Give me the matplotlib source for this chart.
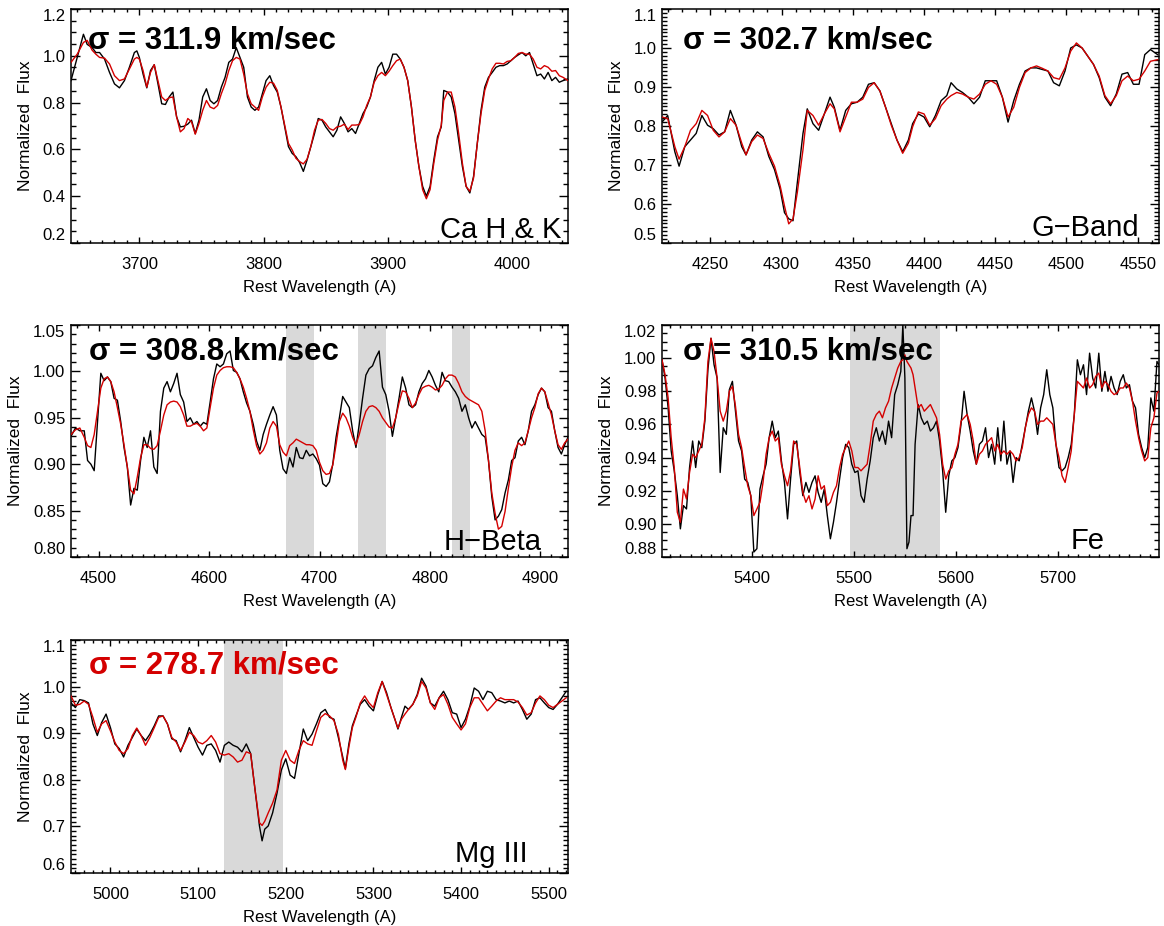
import matplotlib
matplotlib.use("Agg")
import matplotlib.pyplot as plt
from matplotlib.ticker import MultipleLocator, AutoMinorLocator, FormatStrFormatter

plt.rcParams["font.family"] = ["Liberation Sans", "DejaVu Sans"]

# ---- Ca H & K ----
wl_cahk = [3645, 3650, 3655, 3658, 3662, 3665, 3668, 3672, 3676, 3680,
           3684, 3688, 3692, 3696, 3698, 3700, 3703, 3706, 3709, 3712,
           3715, 3718, 3721, 3724, 3727, 3730, 3733, 3736, 3739, 3742,
           3745, 3748, 3751, 3754, 3757, 3760, 3763, 3766, 3769, 3772,
           3775, 3778, 3781, 3784, 3787, 3790, 3793, 3796, 3799, 3802,
           3805, 3808, 3811, 3814, 3817, 3820, 3823, 3826, 3829, 3832,
           3835, 3838, 3841, 3844, 3847, 3850, 3853, 3856, 3859, 3862,
           3865, 3868, 3871, 3874, 3877, 3880, 3883, 3886, 3889, 3892,
           3895, 3898, 3901, 3904, 3907, 3910, 3913, 3916, 3919, 3922,
           3925, 3928, 3931, 3934, 3937, 3940, 3943, 3945, 3948, 3951,
           3954, 3957, 3960, 3963, 3966, 3969, 3972, 3975, 3978, 3981,
           3984, 3987, 3990, 3993, 3996, 3999, 4002, 4005, 4008, 4011,
           4014, 4017, 4020, 4023, 4026, 4029, 4032, 4035, 4038, 4041,
           4045]
obs_cahk = [0.894, 0.993, 1.092, 1.049, 1.035, 1.014, 1.014, 0.986, 0.929, 0.880,
            0.863, 0.894, 0.951, 1.014, 1.021, 0.993, 0.922, 0.863, 0.937, 0.962,
            0.880, 0.795, 0.792, 0.824, 0.845, 0.739, 0.696, 0.699, 0.708, 0.725,
            0.668, 0.725, 0.824, 0.859, 0.809, 0.795, 0.809, 0.866, 0.908, 0.972,
            0.986, 1.035, 0.993, 0.951, 0.824, 0.781, 0.767, 0.781, 0.838, 0.894,
            0.915, 0.873, 0.845, 0.781, 0.696, 0.612, 0.583, 0.569, 0.544, 0.506,
            0.555, 0.612, 0.668, 0.732, 0.725, 0.696, 0.675, 0.654, 0.682, 0.739,
            0.711, 0.675, 0.689, 0.668, 0.711, 0.753, 0.781, 0.824, 0.894, 0.951,
            0.972, 0.922, 0.951, 1.007, 1.007, 0.986, 0.951, 0.894, 0.781, 0.640,
            0.527, 0.442, 0.400, 0.442, 0.555, 0.654, 0.696, 0.852, 0.845, 0.824,
            0.753, 0.640, 0.527, 0.442, 0.414, 0.485, 0.626, 0.767, 0.866, 0.908,
            0.929, 0.951, 0.958, 0.958, 0.965, 0.979, 0.993, 1.004, 1.014, 1.000,
            1.014, 0.965, 0.915, 0.922, 0.901, 0.929, 0.894, 0.908, 0.887, 0.894,
            0.901]
mod_cahk = [0.972, 1.007, 1.057, 1.066, 1.024, 1.007, 0.993, 0.990, 0.965, 0.915,
            0.894, 0.901, 0.944, 0.986, 0.993, 0.986, 0.937, 0.866, 0.929, 0.962,
            0.894, 0.824, 0.809, 0.821, 0.824, 0.739, 0.675, 0.689, 0.732, 0.718,
            0.665, 0.711, 0.767, 0.809, 0.781, 0.774, 0.788, 0.838, 0.880, 0.937,
            0.979, 0.993, 0.986, 0.922, 0.838, 0.795, 0.781, 0.767, 0.824, 0.866,
            0.887, 0.883, 0.852, 0.781, 0.704, 0.626, 0.598, 0.562, 0.548, 0.538,
            0.558, 0.612, 0.682, 0.725, 0.728, 0.711, 0.689, 0.682, 0.696, 0.699,
            0.708, 0.685, 0.704, 0.704, 0.706, 0.739, 0.788, 0.824, 0.887, 0.915,
            0.929, 0.915, 0.934, 0.958, 0.979, 0.986, 0.951, 0.894, 0.781, 0.640,
            0.527, 0.428, 0.389, 0.428, 0.541, 0.640, 0.704, 0.809, 0.845, 0.845,
            0.781, 0.668, 0.541, 0.442, 0.421, 0.478, 0.626, 0.753, 0.852, 0.901,
            0.944, 0.968, 0.968, 0.965, 0.976, 0.979, 0.993, 1.010, 1.014, 1.007,
            1.007, 0.986, 0.951, 0.944, 0.958, 0.951, 0.934, 0.937, 0.915, 0.908,
            0.894]

# ---- G-Band ----
wl_gband = [4216, 4220, 4225, 4228, 4232, 4236, 4240, 4244, 4248, 4252,
            4256, 4260, 4264, 4268, 4272, 4275, 4279, 4283, 4287, 4291,
            4295, 4299, 4302, 4305, 4308, 4311, 4315, 4318, 4322, 4326,
            4330, 4334, 4337, 4341, 4345, 4349, 4353, 4357, 4361, 4365,
            4369, 4373, 4377, 4381, 4385, 4389, 4392, 4396, 4400, 4404,
            4408, 4412, 4416, 4419, 4423, 4427, 4431, 4435, 4439, 4443,
            4447, 4451, 4455, 4459, 4463, 4467, 4471, 4475, 4479, 4483,
            4487, 4491, 4495, 4499, 4503, 4507, 4511, 4515, 4519, 4523,
            4527, 4531, 4535, 4539, 4543, 4547, 4551, 4555, 4559, 4564]
obs_gband = [0.810, 0.827, 0.734, 0.697, 0.747, 0.764, 0.781, 0.827, 0.802, 0.793,
             0.777, 0.785, 0.840, 0.802, 0.747, 0.726, 0.764, 0.785, 0.772, 0.722,
             0.688, 0.637, 0.578, 0.562, 0.557, 0.654, 0.781, 0.844, 0.806, 0.789,
             0.831, 0.874, 0.848, 0.789, 0.840, 0.857, 0.861, 0.874, 0.907, 0.911,
             0.890, 0.848, 0.806, 0.764, 0.734, 0.764, 0.806, 0.831, 0.823, 0.798,
             0.827, 0.865, 0.878, 0.911, 0.895, 0.886, 0.874, 0.857, 0.874, 0.916,
             0.916, 0.916, 0.874, 0.810, 0.865, 0.907, 0.941, 0.949, 0.949, 0.945,
             0.941, 0.911, 0.903, 0.941, 1.000, 1.008, 1.000, 0.979, 0.958, 0.924,
             0.874, 0.852, 0.882, 0.933, 0.937, 0.907, 0.907, 0.983, 0.996, 0.983]
mod_gband = [0.823, 0.819, 0.747, 0.715, 0.747, 0.789, 0.806, 0.840, 0.827, 0.789,
             0.772, 0.785, 0.819, 0.802, 0.756, 0.726, 0.760, 0.777, 0.768, 0.730,
             0.697, 0.646, 0.595, 0.549, 0.562, 0.629, 0.739, 0.840, 0.827, 0.802,
             0.831, 0.857, 0.844, 0.785, 0.823, 0.861, 0.861, 0.869, 0.899, 0.911,
             0.890, 0.848, 0.802, 0.764, 0.730, 0.756, 0.798, 0.836, 0.831, 0.802,
             0.819, 0.852, 0.869, 0.878, 0.886, 0.882, 0.874, 0.869, 0.882, 0.907,
             0.916, 0.907, 0.874, 0.823, 0.848, 0.899, 0.937, 0.949, 0.954, 0.948,
             0.941, 0.924, 0.920, 0.949, 0.992, 1.013, 1.000, 0.979, 0.958, 0.928,
             0.878, 0.857, 0.878, 0.916, 0.928, 0.916, 0.920, 0.941, 0.966, 0.970]

# ---- H-Beta ----
wl_hbeta = [4475, 4479, 4483, 4487, 4490, 4493, 4496, 4499, 4502, 4505,
            4508, 4511, 4514, 4517, 4520, 4523, 4526, 4529, 4532, 4535,
            4538, 4541, 4544, 4547, 4550, 4553, 4556, 4559, 4562, 4565,
            4568, 4571, 4574, 4577, 4580, 4583, 4586, 4589, 4592, 4595,
            4598, 4601, 4604, 4607, 4610, 4613, 4616, 4619, 4622, 4625,
            4628, 4631, 4634, 4637, 4640, 4643, 4646, 4649, 4652, 4655,
            4658, 4661, 4664, 4667, 4670, 4673, 4676, 4679, 4682, 4685,
            4688, 4691, 4694, 4697, 4700, 4703, 4706, 4709, 4712, 4715,
            4718, 4721, 4724, 4727, 4730, 4733, 4736, 4739, 4742, 4745,
            4748, 4751, 4754, 4757, 4760, 4763, 4766, 4769, 4772, 4775,
            4778, 4781, 4784, 4787, 4790, 4793, 4796, 4799, 4802, 4805,
            4808, 4811, 4814, 4817, 4820, 4823, 4826, 4829, 4832, 4835,
            4838, 4841, 4844, 4847, 4850, 4853, 4856, 4859, 4862, 4865,
            4868, 4871, 4874, 4877, 4880, 4883, 4886, 4889, 4892, 4895,
            4898, 4901, 4904, 4907, 4910, 4913, 4916, 4919, 4922, 4925]
obs_hbeta = [0.930, 0.939, 0.936, 0.936, 0.904, 0.900, 0.893, 0.946, 0.998, 0.990,
             0.994, 0.989, 0.971, 0.969, 0.946, 0.918, 0.897, 0.856, 0.874, 0.872,
             0.904, 0.929, 0.918, 0.936, 0.897, 0.890, 0.957, 0.982, 0.989, 0.978,
             0.987, 0.998, 0.975, 0.967, 0.946, 0.950, 0.943, 0.946, 0.941, 0.945,
             0.943, 0.967, 0.992, 1.008, 1.005, 1.008, 1.019, 1.022, 1.001, 0.999,
             0.992, 0.978, 0.966, 0.957, 0.943, 0.925, 0.915, 0.932, 0.943, 0.953,
             0.962, 0.953, 0.915, 0.895, 0.890, 0.907, 0.897, 0.918, 0.907, 0.906,
             0.915, 0.909, 0.911, 0.906, 0.899, 0.879, 0.876, 0.881, 0.900, 0.929,
             0.950, 0.973, 0.967, 0.961, 0.936, 0.918, 0.943, 0.971, 0.996, 1.003,
             1.006, 1.015, 1.022, 0.983, 0.975, 0.957, 0.930, 0.950, 0.971, 0.994,
             0.982, 0.964, 0.961, 0.964, 0.978, 0.987, 0.992, 1.001, 0.994, 0.985,
             0.978, 0.999, 0.990, 0.989, 0.983, 0.978, 0.971, 0.957, 0.964, 0.950,
             0.939, 0.946, 0.939, 0.932, 0.929, 0.904, 0.865, 0.840, 0.844, 0.851,
             0.869, 0.883, 0.904, 0.907, 0.925, 0.929, 0.921, 0.936, 0.957, 0.964,
             0.975, 0.982, 0.978, 0.961, 0.957, 0.936, 0.918, 0.911, 0.921, 0.929]
mod_hbeta = [0.932, 0.937, 0.939, 0.929, 0.920, 0.918, 0.932, 0.957, 0.982, 0.992,
             0.994, 0.989, 0.978, 0.961, 0.943, 0.921, 0.897, 0.872, 0.868, 0.886,
             0.907, 0.921, 0.921, 0.917, 0.916, 0.920, 0.936, 0.953, 0.964, 0.967,
             0.968, 0.967, 0.962, 0.953, 0.941, 0.941, 0.943, 0.944, 0.941, 0.936,
             0.939, 0.961, 0.982, 0.996, 1.001, 1.004, 1.005, 1.005, 1.004, 0.999,
             0.992, 0.983, 0.971, 0.957, 0.937, 0.920, 0.911, 0.915, 0.923, 0.939,
             0.946, 0.941, 0.921, 0.913, 0.909, 0.920, 0.923, 0.927, 0.925, 0.923,
             0.921, 0.921, 0.920, 0.915, 0.902, 0.893, 0.889, 0.890, 0.899, 0.921,
             0.946, 0.955, 0.950, 0.941, 0.929, 0.921, 0.932, 0.946, 0.957, 0.962,
             0.963, 0.961, 0.957, 0.950, 0.945, 0.940, 0.939, 0.950, 0.966, 0.979,
             0.978, 0.971, 0.961, 0.966, 0.975, 0.982, 0.984, 0.985, 0.983, 0.980,
             0.981, 0.985, 0.992, 0.996, 0.996, 0.994, 0.987, 0.978, 0.973, 0.970,
             0.968, 0.966, 0.964, 0.957, 0.936, 0.904, 0.869, 0.847, 0.830, 0.833,
             0.849, 0.874, 0.897, 0.915, 0.923, 0.920, 0.923, 0.936, 0.950, 0.961,
             0.976, 0.982, 0.978, 0.966, 0.953, 0.936, 0.921, 0.916, 0.923, 0.927]

# ---- Fe ----
wl_fe = [5312, 5315, 5318, 5321, 5324, 5327, 5330, 5333, 5336, 5339,
         5342, 5345, 5348, 5351, 5354, 5357, 5360, 5363, 5366, 5369,
         5372, 5375, 5378, 5381, 5384, 5387, 5390, 5393, 5396, 5399,
         5402, 5405, 5408, 5411, 5414, 5417, 5420, 5423, 5426, 5429,
         5432, 5435, 5438, 5441, 5444, 5447, 5450, 5453, 5456, 5459,
         5462, 5465, 5468, 5471, 5474, 5477, 5480, 5483, 5486, 5489,
         5492, 5495, 5498, 5501, 5504, 5507, 5510, 5513, 5516, 5519,
         5522, 5525, 5528, 5531, 5534, 5537, 5540, 5543, 5546, 5548,
         5550, 5552, 5554, 5556, 5558, 5560, 5563, 5566, 5569, 5572,
         5575, 5578, 5581, 5584, 5587, 5590, 5593, 5596, 5599, 5602,
         5605, 5608, 5611, 5614, 5617, 5620, 5623, 5626, 5629, 5632,
         5635, 5638, 5641, 5644, 5647, 5650, 5653, 5656, 5659, 5662,
         5665, 5668, 5671, 5674, 5677, 5680, 5683, 5686, 5689, 5692,
         5695, 5698, 5701, 5704, 5707, 5710, 5713, 5716, 5719, 5722,
         5725, 5728, 5731, 5734, 5737, 5740, 5743, 5746, 5749, 5752,
         5755, 5758, 5761, 5764, 5767, 5770, 5773, 5776, 5779, 5782,
         5785, 5788, 5791, 5794, 5797, 5799]
obs_fe = [0.999, 0.988, 0.970, 0.944, 0.932, 0.917, 0.897, 0.911, 0.909, 0.934,
          0.950, 0.934, 0.950, 0.946, 0.962, 0.993, 1.012, 0.996, 0.988, 0.931,
          0.958, 0.954, 0.981, 0.986, 0.968, 0.950, 0.944, 0.927, 0.925, 0.917,
          0.883, 0.885, 0.921, 0.929, 0.936, 0.952, 0.962, 0.952, 0.956, 0.938,
          0.925, 0.903, 0.927, 0.948, 0.950, 0.931, 0.917, 0.925, 0.919, 0.925,
          0.929, 0.919, 0.913, 0.921, 0.905, 0.891, 0.901, 0.913, 0.927, 0.940,
          0.948, 0.946, 0.936, 0.931, 0.932, 0.917, 0.913, 0.927, 0.938, 0.952,
          0.958, 0.950, 0.956, 0.948, 0.962, 0.952, 0.978, 0.984, 0.992, 1.020,
          0.988, 0.885, 0.889, 0.905, 0.905, 0.948, 0.972, 0.964, 0.960, 0.962,
          0.956, 0.958, 0.962, 0.950, 0.932, 0.907, 0.929, 0.938, 0.940, 0.946,
          0.960, 0.980, 0.966, 0.956, 0.944, 0.936, 0.948, 0.950, 0.958, 0.940,
          0.948, 0.936, 0.958, 0.938, 0.962, 0.936, 0.944, 0.925, 0.940, 0.938,
          0.948, 0.958, 0.968, 0.976, 0.968, 0.954, 0.970, 0.978, 0.993, 0.978,
          0.970, 0.948, 0.934, 0.932, 0.934, 0.940, 0.948, 0.966, 0.999, 0.990,
          0.996, 0.978, 1.003, 0.988, 0.982, 1.003, 0.980, 0.992, 0.980, 0.989,
          0.982, 0.978, 0.986, 0.990, 0.982, 0.984, 0.974, 0.970, 0.954, 0.946,
          0.940, 0.946, 0.976, 0.968, 0.998, 0.996]
mod_fe = [0.999, 0.990, 0.976, 0.952, 0.934, 0.907, 0.901, 0.921, 0.915, 0.931,
          0.942, 0.940, 0.944, 0.948, 0.964, 0.998, 1.012, 1.004, 0.988, 0.968,
          0.962, 0.968, 0.980, 0.983, 0.971, 0.954, 0.946, 0.934, 0.923, 0.917,
          0.905, 0.909, 0.913, 0.925, 0.942, 0.952, 0.956, 0.950, 0.952, 0.936,
          0.929, 0.923, 0.932, 0.950, 0.948, 0.934, 0.919, 0.913, 0.917, 0.909,
          0.915, 0.929, 0.921, 0.923, 0.911, 0.913, 0.919, 0.923, 0.934, 0.942,
          0.946, 0.950, 0.944, 0.934, 0.934, 0.932, 0.934, 0.936, 0.948, 0.962,
          0.966, 0.968, 0.964, 0.970, 0.974, 0.982, 0.988, 0.994, 0.998, 0.999,
          1.002, 0.998, 0.996, 0.994, 0.990, 0.982, 0.970, 0.972, 0.968, 0.970,
          0.972, 0.968, 0.964, 0.954, 0.936, 0.927, 0.932, 0.934, 0.942, 0.948,
          0.962, 0.964, 0.966, 0.960, 0.950, 0.936, 0.942, 0.944, 0.948, 0.950,
          0.952, 0.944, 0.948, 0.942, 0.944, 0.942, 0.944, 0.942, 0.938, 0.940,
          0.946, 0.958, 0.966, 0.970, 0.968, 0.960, 0.962, 0.962, 0.964, 0.962,
          0.960, 0.948, 0.940, 0.929, 0.925, 0.934, 0.944, 0.966, 0.986, 0.984,
          0.982, 0.988, 0.982, 0.984, 0.989, 0.991, 0.982, 0.986, 0.984, 0.980,
          0.978, 0.979, 0.982, 0.982, 0.985, 0.982, 0.974, 0.962, 0.952, 0.944,
          0.938, 0.940, 0.958, 0.964, 0.979, 0.980]

# ---- Mg ----
wl_mg = [4955, 4960, 4965, 4970, 4975, 4980, 4985, 4990, 4995, 5000,
         5005, 5010, 5015, 5020, 5025, 5030, 5035, 5040, 5045, 5050,
         5055, 5060, 5065, 5070, 5075, 5080, 5085, 5090, 5095, 5100,
         5105, 5110, 5115, 5120, 5125, 5130, 5135, 5140, 5145, 5150,
         5155, 5160, 5165, 5170, 5173, 5176, 5180, 5185, 5190, 5195,
         5200, 5205, 5210, 5215, 5220, 5225, 5230, 5235, 5240, 5245,
         5250, 5255, 5260, 5265, 5268, 5272, 5276, 5280, 5285, 5290,
         5295, 5300, 5305, 5310, 5315, 5320, 5325, 5328, 5332, 5336,
         5340, 5345, 5350, 5355, 5360, 5365, 5370, 5375, 5380, 5385,
         5390, 5395, 5400, 5405, 5410, 5415, 5420, 5425, 5430, 5435,
         5440, 5445, 5450, 5455, 5460, 5465, 5470, 5475, 5480, 5485,
         5490, 5495, 5500, 5505, 5510, 5515, 5520]
obs_mg = [0.965, 0.955, 0.972, 0.970, 0.965, 0.920, 0.895, 0.923, 0.941, 0.912,
          0.877, 0.867, 0.849, 0.874, 0.891, 0.909, 0.895, 0.884, 0.898, 0.916,
          0.937, 0.937, 0.920, 0.888, 0.884, 0.860, 0.884, 0.912, 0.891, 0.870,
          0.853, 0.874, 0.877, 0.863, 0.838, 0.874, 0.881, 0.874, 0.870, 0.860,
          0.877, 0.856, 0.778, 0.701, 0.669, 0.694, 0.701, 0.729, 0.771, 0.821,
          0.845, 0.810, 0.803, 0.856, 0.909, 0.884, 0.898, 0.920, 0.944, 0.951,
          0.934, 0.930, 0.891, 0.849, 0.824, 0.877, 0.916, 0.937, 0.962, 0.972,
          0.958, 0.948, 0.983, 1.011, 0.987, 0.955, 0.927, 0.909, 0.934, 0.958,
          0.951, 0.962, 0.983, 1.018, 1.001, 0.965, 0.958, 0.976, 0.990, 0.972,
          0.944, 0.941, 0.912, 0.930, 0.958, 0.997, 0.990, 0.972, 0.990, 0.987,
          0.972, 0.969, 0.965, 0.969, 0.965, 0.969, 0.951, 0.930, 0.941, 0.972,
          0.976, 0.965, 0.955, 0.951, 0.962, 0.976, 0.990]
mod_mg = [0.980, 0.960, 0.962, 0.969, 0.962, 0.934, 0.902, 0.920, 0.927, 0.905,
          0.881, 0.863, 0.856, 0.867, 0.895, 0.911, 0.895, 0.874, 0.891, 0.912,
          0.934, 0.937, 0.920, 0.891, 0.881, 0.863, 0.881, 0.902, 0.895, 0.881,
          0.877, 0.884, 0.895, 0.881, 0.856, 0.853, 0.856, 0.849, 0.838, 0.842,
          0.860, 0.856, 0.778, 0.708, 0.702, 0.711, 0.729, 0.750, 0.778, 0.842,
          0.863, 0.842, 0.835, 0.863, 0.884, 0.877, 0.874, 0.905, 0.934, 0.942,
          0.937, 0.927, 0.898, 0.842, 0.822, 0.870, 0.912, 0.934, 0.965, 0.980,
          0.965, 0.955, 0.987, 1.011, 0.983, 0.955, 0.927, 0.911, 0.930, 0.941,
          0.951, 0.962, 0.980, 1.011, 0.997, 0.965, 0.951, 0.976, 0.983, 0.962,
          0.934, 0.920, 0.907, 0.920, 0.955, 0.976, 0.976, 0.962, 0.948, 0.958,
          0.969, 0.976, 0.972, 0.972, 0.972, 0.967, 0.955, 0.939, 0.944, 0.965,
          0.980, 0.972, 0.960, 0.955, 0.962, 0.969, 0.976]

sigmas = ["311.9", "302.7", "308.8", "310.5", "278.7"]
names = ["Ca H & K", "G\u2212Band", "H\u2212Beta", "Fe", "Mg III"]
masks_hbeta = [(4670, 4695), (4735, 4760), (4820, 4836)]
masks_fe = [(5496, 5584)]
masks_mg = [(5130, 5197)]

RED = "#d40000"
GREY = "#d9d9d9"

fig = plt.figure(figsize=(11.64, 9.26), dpi=100)


def panel(rect, wl, obs, mod, xlim, ylim, xstep, ystep, minors, yfmt, masks,
          sigma, sig_color, sig_pos, name, name_pos):
    ax = fig.add_axes(rect)
    for lo, hi in masks:
        ax.axvspan(lo, hi, color=GREY, lw=0, zorder=0)
    ax.plot(wl, obs, color="black", lw=1.0, zorder=2)
    ax.plot(wl, mod, color=RED, lw=1.0, zorder=3)
    ax.set_xlim(*xlim)
    ax.set_ylim(*ylim)
    ax.xaxis.set_major_locator(MultipleLocator(xstep))
    ax.xaxis.set_minor_locator(AutoMinorLocator(minors[0]))
    ax.yaxis.set_major_locator(MultipleLocator(ystep))
    ax.yaxis.set_minor_locator(AutoMinorLocator(minors[1]))
    ax.yaxis.set_major_formatter(FormatStrFormatter(yfmt))
    ax.tick_params(which="both", direction="in", top=True, right=True,
                   labelsize=12, width=1.0)
    ax.tick_params(axis="x", which="major", length=4, pad=10)
    ax.tick_params(axis="x", which="minor", length=2.2)
    ax.tick_params(axis="y", which="major", length=6.5, pad=4)
    ax.tick_params(axis="y", which="minor", length=3.5)
    for s in ax.spines.values():
        s.set_linewidth(1.1)

    # IDL style: end labels on the y axis sit inside the frame
    locs = ax.yaxis.get_majorticklocs()
    for loc, tk in zip(locs, ax.yaxis.get_major_ticks(len(locs))):
        if abs(loc - ylim[1]) < ystep * 1e-3:
            tk.label1.set_verticalalignment("top")
        elif abs(loc - ylim[0]) < ystep * 1e-3:
            tk.label1.set_verticalalignment("bottom")

    ax.set_xlabel("Rest Wavelength (A)", fontsize=12, labelpad=6)
    ax.set_ylabel("Normalized  Flux", fontsize=12.5, labelpad=7)
    ax.text(sig_pos[0], sig_pos[1], "\u03c3 = " + sigma + " km/sec",
            transform=ax.transAxes, fontsize=22.5, fontweight="bold",
            color=sig_color, va="baseline", ha="left", zorder=5)
    ax.text(name_pos[0], name_pos[1], name, transform=ax.transAxes,
            fontsize=21, va="baseline", ha="right", zorder=5)
    return ax


W = 1164.0
H = 926.0
L1, L2 = 71 / W, 662 / W
AW = 497 / W

panel([L1, 1 - 243 / H, AW, 234 / H], wl_cahk, obs_cahk, mod_cahk,
      (3645, 4045), (0.2, 1.2), 100, 0.2, (10, 4), "%.1f", [],
      sigmas[0], "black", (0.034, 0.833), names[0], (0.986, 0.022))
panel([L2, 1 - 243 / H, AW, 234 / H], wl_gband, obs_gband, mod_gband,
      (4216, 4565), (0.5, 1.1), 50, 0.1, (5, 10), "%.1f", [],
      sigmas[1], "black", (0.042, 0.833), names[1], (0.96, 0.03))
panel([L1, 1 - 557 / H, AW, 232 / H], wl_hbeta, obs_hbeta, mod_hbeta,
      (4475, 4925), (0.80, 1.05), 100, 0.05, (10, 5), "%.2f", masks_hbeta,
      sigmas[2], "black", (0.036, 0.85), names[2], (0.946, 0.03))
panel([L2, 1 - 557 / H, AW, 232 / H], wl_fe, obs_fe, mod_fe,
      (5312, 5799), (0.88, 1.02), 100, 0.02, (10, 4), "%.2f", masks_fe,
      sigmas[3], "black", (0.042, 0.85), names[3], (0.89, 0.035))
panel([L1, 1 - 873 / H, AW, 233 / H], wl_mg, obs_mg, mod_mg,
      (4955, 5522), (0.6, 1.1), 100, 0.1, (10, 10), "%.1f", masks_mg,
      sigmas[4], RED, (0.036, 0.855), names[4], (0.918, 0.047))

fig.savefig("out.png", dpi=100)
